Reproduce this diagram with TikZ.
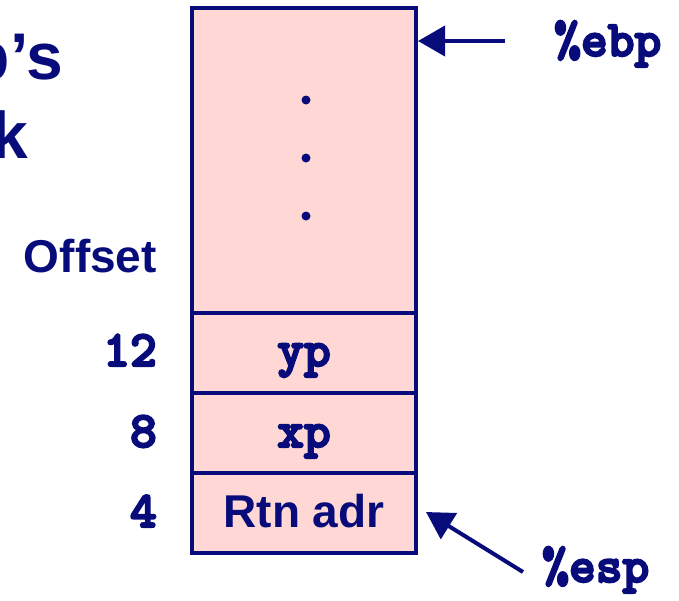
\documentclass[tikz,border=0pt]{standalone}
\usepackage{fontspec}
\setmainfont{Liberation Sans}
\newfontfamily\monobold{lmmonolt10-bold.otf}[FakeBold=4]
\usetikzlibrary{arrows.meta}
\definecolor{navy}{RGB}{8,12,122}
\definecolor{pinkfill}{RGB}{255,216,214}
\tikzset{
  cell/.style={draw=navy, fill=pinkfill, line width=4pt, minimum width=224pt, inner sep=0pt, outer sep=0pt},
  sanslab/.style={text=navy, font=\fontsize{46}{55}\selectfont\bfseries, inner sep=0pt},
  titlelab/.style={text=navy, font=\fontsize{66}{79}\selectfont\bfseries, inner sep=0pt},
  monolab/.style={text=navy, font=\monobold\fontsize{51}{60}\selectfont, inner sep=0pt},
  ptr/.style={draw=navy, line width=4pt, -{Triangle[length=27pt,width=30pt]}},
}
\begin{document}
\begin{tikzpicture}[x=1pt,y=-1pt]
\useasboundingbox (0,0) rectangle (679,600);
\clip (0,0) rectangle (679,600);
% title fragments (cut off by the left edge)
\node[titlelab, anchor=base east] (t1) at (63,79) {swap’s};
\node[titlelab, anchor=base east] (t2) at (28,158) {Stack};
% stack cells
\node[cell, minimum height=305pt] (top) at (304,160.5) {};
\node[cell, minimum height=80pt] (ypc) at (304,352.5) {};
\node[cell, minimum height=80pt] (xpc) at (304,432.5) {};
\node[cell, minimum height=80pt] (rtnc) at (304,513) {};
% dots
\fill[navy] (306,100) circle (4.5pt);
\fill[navy] (306,158) circle (4.5pt);
\fill[navy] (306,216) circle (4.5pt);
% cell labels
\node[monolab, anchor=base] (yp) at (304,366) {yp};
\node[monolab, anchor=base] (xp) at (304,447) {xp};
\node[sanslab, anchor=base] (rtn) at (304,527) {Rtn adr};
% offsets
\node[sanslab, anchor=base east] (off) at (157,272) {Offset};
\node[monolab, anchor=base east] (o12) at (157,366) {12};
\node[monolab, anchor=base east] (o8) at (157,447) {8};
\node[monolab, anchor=base east] (o4) at (157,527) {4};
% registers
\node[monolab, anchor=base west] (ebp) at (554,56) {\%ebp};
\node[monolab, anchor=base west] (esp) at (542,582) {\%esp};
\coordinate (ebpstart) at (505,41);
\coordinate (ebpend) at (418,41);
\coordinate (espstart) at (523,572);
\coordinate (espend) at (426,512);
\draw[ptr] (ebpstart) -- (ebpend);
\draw[ptr] (espstart) -- (espend);
\end{tikzpicture}
\end{document}
